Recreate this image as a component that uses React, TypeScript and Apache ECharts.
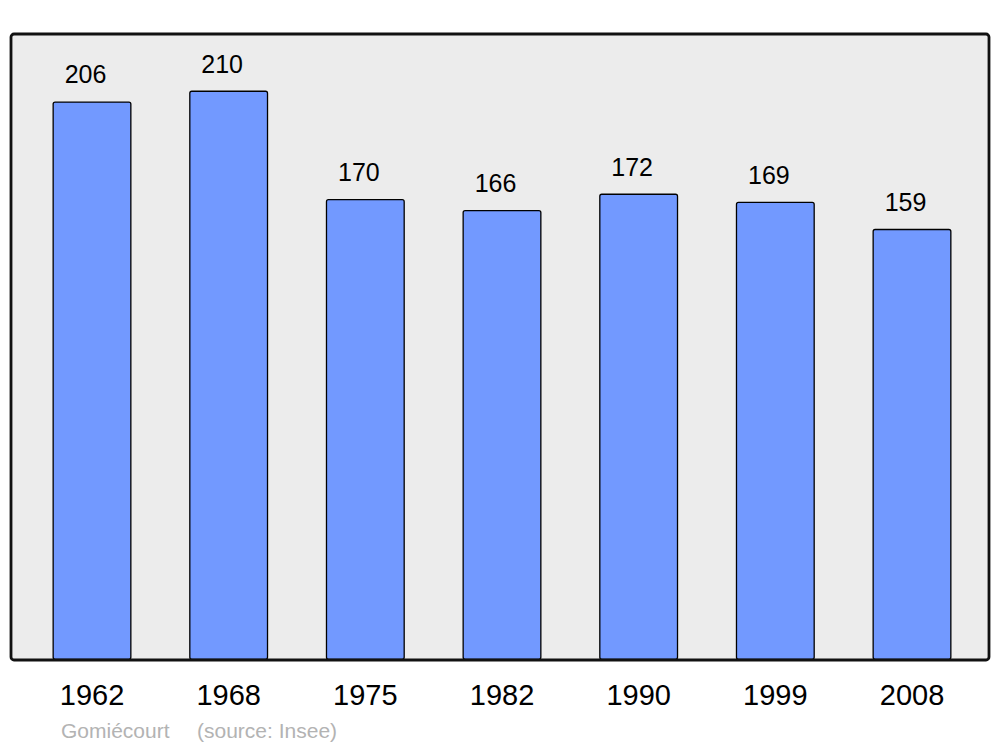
import React, { useEffect, useRef } from "react";
import * as echarts from "echarts";

const years = ["1962", "1968", "1975", "1982", "1990", "1999", "2008"];
const population = [206, 210, 170, 166, 172, 169, 159];
const footerPlace = "Gomiécourt";
const footerSource = "(source: Insee)";

export default function App() {
  const ref = useRef<HTMLDivElement>(null);
  useEffect(() => {
    if (!ref.current) return;
    const chart = echarts.init(ref.current, null, { renderer: "svg" });
    chart.setOption({
      animation: false,
      textStyle: { fontFamily: "Liberation Sans, Arial, sans-serif" },
      grid: { left: 23.67, right: 19.67, top: 35, bottom: 87, containLabel: false },
      xAxis: {
        type: "category",
        data: years,
        axisLine: { show: false },
        axisTick: { show: false },
        axisLabel: {
          fontSize: 29,
          color: "#000",
          margin: 35,
          verticalAlign: "middle",
          fontFamily: "Liberation Sans, Arial, sans-serif",
        },
      },
      yAxis: {
        type: "value",
        min: 0,
        max: 230.5,
        show: false,
        splitLine: { show: false },
      },
      graphic: [
        {
          type: "rect",
          z: -10,
          silent: true,
          shape: { x: 11, y: 34, width: 978, height: 626, r: 3 },
          style: { fill: "#ececec", stroke: "none" },
        },
        {
          type: "rect",
          z: 100,
          silent: true,
          shape: { x: 11, y: 34, width: 978, height: 626, r: 3 },
          style: { fill: "none", stroke: "#111", lineWidth: 2.8 },
        },
        {
          type: "text",
          x: 61,
          y: 730,
          style: {
            text: footerPlace,
            fontSize: 21,
            fill: "#b3b3b3",
            verticalAlign: "middle",
            fontFamily: "Liberation Sans, Arial, sans-serif",
          },
        },
        {
          type: "text",
          x: 197,
          y: 730,
          style: {
            text: footerSource,
            fontSize: 21,
            fill: "#b3b3b3",
            verticalAlign: "middle",
            fontFamily: "Liberation Sans, Arial, sans-serif",
          },
        },
      ],
      series: [
        {
          type: "bar",
          data: population,
          barWidth: 79,
          itemStyle: {
            color: "#7299ff",
            borderColor: "#000",
            borderWidth: 1.3,
            borderRadius: 2,
          },
          label: {
            show: true,
            position: ["50%", -27],
            align: "center",
            verticalAlign: "middle",
            offset: [-6.5, 0],
            fontSize: 25,
            color: "#000",
            fontFamily: "Liberation Sans, Arial, sans-serif",
          },
        },
      ],
    });
    return () => chart.dispose();
  }, []);
  return (
    <div
      ref={ref}
      style={{ position: "fixed", left: 0, top: 0, width: 1000, height: 747, background: "#fff" }}
    />
  );
}
